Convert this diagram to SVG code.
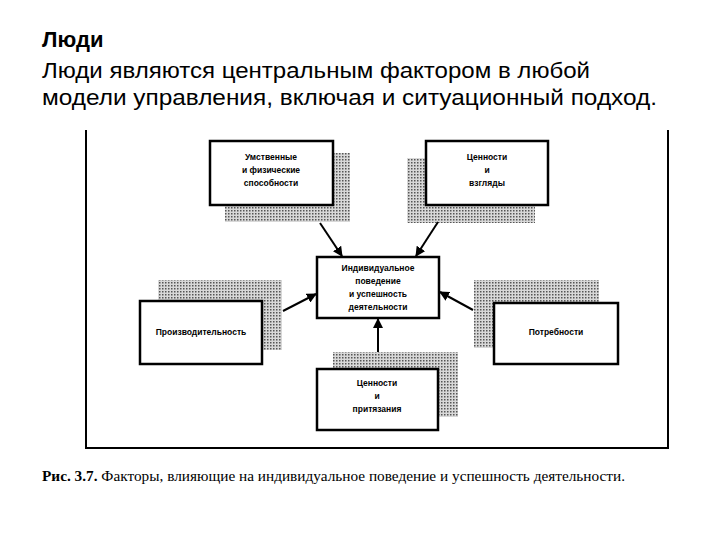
<svg xmlns="http://www.w3.org/2000/svg" width="720" height="540" viewBox="0 0 720 540">
<defs>
<pattern id="h" width="3" height="3" patternUnits="userSpaceOnUse"><rect width="3" height="3" fill="#d8d8d8"/><rect width="1.5" height="1.5" fill="#555"/></pattern>
<marker id="a" viewBox="0 0 10 10" refX="9" refY="5" markerWidth="5" markerHeight="5" orient="auto"><path d="M0,0L10,5L0,10z" fill="#000"/></marker>
<style>
.b{fill:#fff;stroke:#000;stroke-width:2.5}
.s{fill:url(#h)}
.t{font-family:"Liberation Sans",Arial,sans-serif;font-size:8.5px;font-weight:bold;text-anchor:middle}
.c{stroke:#000;stroke-width:2;marker-end:url(#a)}
.h{font-family:"Liberation Sans",Arial,sans-serif;font-size:22px}
</style>
</defs>
<rect width="720" height="540" fill="#fff"/>
<text class="h" x="42" y="47" font-weight="bold" font-size="20">Люди</text>
<text class="h" x="42" y="78" textLength="548" lengthAdjust="spacingAndGlyphs">Люди являются центральным фактором в любой</text>
<text class="h" x="42" y="105" textLength="615" lengthAdjust="spacingAndGlyphs">модели управления, включая и ситуационный подход.</text>
<path d="M86,130V448H668V130" fill="none" stroke="#000" stroke-width="2"/>
<g id="n1"><rect class="s" x="225" y="153" width="125" height="69"/><rect class="b" x="210" y="141" width="123" height="64"/><text class="t" x="271" y="160">Умственные</text><text class="t" x="271" y="173">и физические</text><text class="t" x="271" y="186">способности</text></g>
<g id="n2"><rect class="s" x="407" y="158" width="128" height="65"/><rect class="b" x="426" y="141" width="122" height="64"/><text class="t" x="487" y="160">Ценности</text><text class="t" x="487" y="173">и</text><text class="t" x="487" y="186">взгляды</text></g>
<g id="n3"><rect class="b" x="317" y="257" width="122" height="61"/><text class="t" x="378" y="271">Индивидуальное</text><text class="t" x="378" y="284">поведение</text><text class="t" x="378" y="297">и успешность</text><text class="t" x="378" y="310">деятельности</text></g>
<g id="n4"><rect class="s" x="158" y="280" width="124" height="70"/><rect class="b" x="140" y="301" width="122" height="63"/><text class="t" x="201" y="335">Производительность</text></g>
<g id="n5"><rect class="s" x="474" y="280" width="125" height="68"/><rect class="b" x="494" y="303" width="124" height="61"/><text class="t" x="556" y="335">Потребности</text></g>
<g id="n6"><rect class="s" x="333" y="352" width="125" height="65"/><rect class="b" x="317" y="369" width="121" height="61"/><text class="t" x="377" y="386">Ценности</text><text class="t" x="377" y="399">и</text><text class="t" x="377" y="412">притязания</text></g>
<g id="conn">
<line class="c" x1="320" y1="223" x2="342" y2="256"/>
<line class="c" x1="438" y1="222" x2="416" y2="256"/>
<line class="c" x1="283" y1="311" x2="316" y2="294"/>
<line class="c" x1="473" y1="310" x2="440" y2="292"/>
<line class="c" x1="378" y1="352" x2="378" y2="319"/>
</g>
<text x="42" y="481" font-family="Liberation Serif,serif" font-size="14" textLength="583" lengthAdjust="spacingAndGlyphs"><tspan font-weight="bold">Рис. 3.7.</tspan> Факторы, влияющие на индивидуальное поведение и успешность деятельности.</text>
</svg>
